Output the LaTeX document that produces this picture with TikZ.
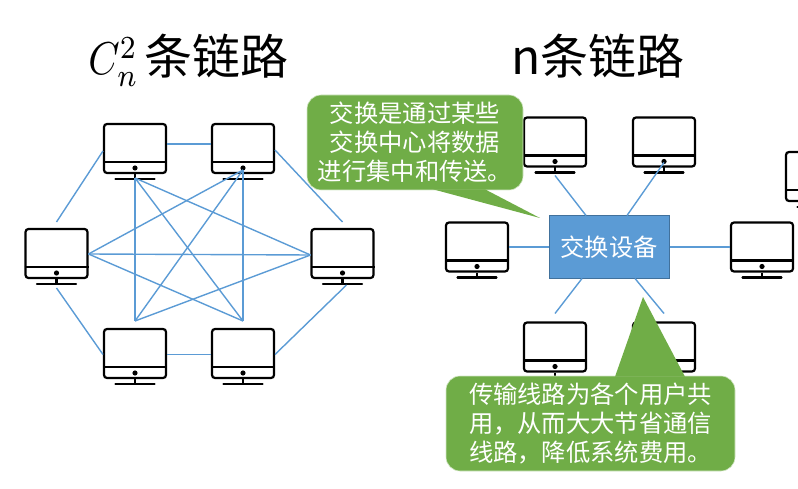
\documentclass[tikz,border=0pt]{standalone}
\usepackage{amsmath}
\usepackage{fontspec}
\setmainfont{Noto Sans CJK SC}
\usetikzlibrary{positioning, calc}
\definecolor{linkblue}{HTML}{5B9BD5}
\definecolor{boxedge}{HTML}{41719C}
\definecolor{notegreen}{HTML}{70AD47}
\definecolor{noteedge}{HTML}{D5E8C8}

\begin{document}
\begin{tikzpicture}[x=1pt, y=-1pt, node distance=44pt and 44pt,
        monitor/.style={rectangle, draw, line width=2.2pt, rounded corners=3pt, inner sep=0pt, outer sep=1pt, minimum width=62pt, minimum height=49pt},
        link/.style={draw=linkblue, line width=1.4pt},
        switchbox/.style={rectangle, draw=boxedge, line width=1pt, fill=linkblue, text=white, minimum width=120pt, minimum height=62pt, font=\fontsize{24.3}{29}\selectfont},
        note/.style={rectangle, draw=noteedge, line width=.6pt, fill=notegreen, text=white, rounded corners=14pt, inner sep=0pt, align=center, font=\fontsize{24.3}{29}\selectfont},
        title/.style={inner sep=0pt, font=\fontsize{48}{50}\selectfont}]

        \useasboundingbox (0,0) rectangle (798,489);
        \clip (0,0) rectangle (798,489);

        \node (titleMesh) [title, anchor=base east] at (289,75) {{\fontsize{10}{12}\selectfont\scalebox{4}[4.6]{$C_n^2$}}\hspace{6pt}条链路};
        \node (titleStar) [title, anchor=base] at (598,75) {n条链路};

        % Full mesh
        \node (pcA) [monitor] at (135,148.5) {};
        \node (pcB) [monitor, right=of pcA] {};
        \node (pcC) [monitor, below=154pt of pcA] {};
        \node (pcD) [monitor, below=154pt of pcB] {};
        \node (pcL) [monitor] at (56.5,253.5) {};
        \node (pcR) [monitor, right=222pt of pcL] {};

        % One switch
        \node (hub) [switchbox] at (609,247) {交换设备};
        \node (hostA) [monitor] at (555,142) {};
        \node (hostB) [monitor] at (664,142) {};
        \node (hostC) [monitor] at (555,347) {};
        \node (hostD) [monitor] at (664,347) {};
        \node (hostL) [monitor] at (477,247) {};
        \node (hostR) [monitor] at (762,247) {};
        \node (hostX) [monitor] at (817,176.5) {};

        % Screen line, button and stand
        \foreach \m in {pcA, pcB, pcC, pcD, pcL, pcR, hostA, hostB, hostC, hostD, hostL, hostR, hostX} {
            \draw [line width=2.2pt] ([yshift=12pt]\m.south west) -- ([yshift=12pt]\m.south east);
            \fill ([yshift=6pt]\m.south) circle (2.6pt);
            \draw [line width=2.2pt] (\m.south) -- ([yshift=-5pt]\m.south);
            \draw [line width=2.2pt, line cap=round] ([xshift=-19.5pt, yshift=-5pt]\m.south) -- ([xshift=19.5pt, yshift=-5pt]\m.south);
        }

        % Outer ring
        \draw [link] ([yshift=4.5pt]pcA.east) -- ([yshift=4.5pt]pcB.west);
        \draw [link] ([yshift=-1pt]pcC.east) -- ([yshift=-1pt]pcD.west);
        \draw [link] ([yshift=-2.5pt]pcA.west) -- ([yshift=6pt]pcL.north);
        \draw [link] ([yshift=-1.5pt]pcB.east) -- ([yshift=6pt]pcR.north);
        \draw [link] ([yshift=-9pt]pcL.south) -- ([yshift=-1pt]pcC.west);
        \draw [link] ([xshift=4pt, yshift=-6pt]pcR.south) -- ([yshift=-1pt]pcD.east);

        % Inner links
        \coordinate (endA) at ([yshift=-4pt]pcA.south);
        \coordinate (endB) at ([yshift=4pt]pcB.south);
        \coordinate (endC) at ([yshift=7pt]pcC.north);
        \coordinate (endD) at ([yshift=7pt]pcD.north);
        \coordinate (endL) at ([yshift=-.5pt]pcL.east);
        \coordinate (endR) at ([yshift=-1.5pt]pcR.west);
        \foreach \from/\to in {endA/endC, endA/endD, endA/endR, endB/endC, endB/endD, endB/endL, endL/endR, endL/endD, endC/endR} {
            \draw [link] (\from) -- (\to);
        }

        % Links to the switch
        \draw [link] ([yshift=-8pt]hostA.south) -- ([xshift=-23pt]hub.north);
        \draw [link] ([yshift=5pt]hostB.south) -- ([xshift=18pt]hub.north);
        \draw [link] ([yshift=8pt]hostC.north) -- ([xshift=-27pt]hub.south);
        \draw [link] ([yshift=8pt]hostD.north) -- ([xshift=26pt]hub.south);
        \draw [link] (hostL) -- (hub);
        \draw [link] (hub) -- (hostR);

        % Callouts
        \node (noteTop) [note, minimum width=216pt, minimum height=95pt] at (415,142.5) {交换是通过某些\\交换中心将数据\\进行集中和传送。};
        \coordinate (tipTop) at (540,218);
        \fill [notegreen] ([xshift=18pt, yshift=1pt]noteTop.south) -- (tipTop) -- ([xshift=70pt, yshift=1pt]noteTop.south) -- cycle;

        \node (noteBottom) [note, minimum width=289pt, minimum height=95pt] at (590.5,423.5) {传输线路为各个用户共\\用，从而大大节省通信\\线路，降低系统费用。};
        \coordinate (tipBottom) at (643,297);
        \fill [notegreen] ([xshift=24.5pt, yshift=-1pt]noteBottom.north) -- (tipBottom) -- ([xshift=94.5pt, yshift=-1pt]noteBottom.north) -- cycle;

    \end{tikzpicture}
\end{document}
